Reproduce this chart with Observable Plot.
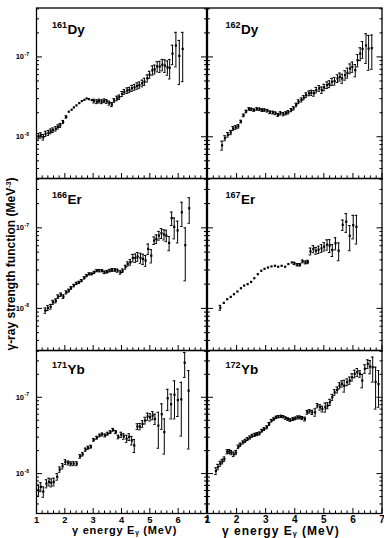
<!DOCTYPE html>
<html>
<head>
<meta charset="utf-8">
<script src="https://cdn.jsdelivr.net/npm/d3@7"></script>
<script src="https://cdn.jsdelivr.net/npm/@observablehq/plot@0.6"></script>
<style>
  body { margin: 0; background: #fff; }
  #chart { position: relative; width: 384px; height: 538px; overflow: hidden;
           font-family: "Liberation Sans", Arial, Helvetica, sans-serif; font-weight: bold; color: #000; }
  #chart svg { position: absolute; }
  .atitle { position: absolute; white-space: nowrap; line-height: 1; }
  .atitle sub { font-size: 0.6em; vertical-align: -0.2em; line-height: 0; }
  .atitle sup { font-size: 0.6em; vertical-align: 0.55em; line-height: 0; }
</style>
</head>
<body>
<div id="chart"></div>
<script>
// γ-ray strength functions, values in units of 1e-8 MeV^-3; err = ± uncertainty
const unit = 1e-8;

const E161 = [1.07,1.15,1.24,1.32,1.42,1.50,1.58,1.68,1.76,1.84,1.94,2.05,2.14,2.24,2.32,2.41,2.51,2.60,2.69,2.77,2.85,2.95,3.03,3.13,3.21,3.30,3.39,3.48,3.57,3.66,3.74,3.84,3.92,4.02,4.10,4.20,4.28,4.37,4.46,4.55,4.63,4.73,4.81,4.91,4.99,5.09,5.17,5.26,5.35,5.44,5.53,5.62,5.70,5.80,5.92,6.04,6.16];
const V161 = [1.02,1.04,0.99,1.09,1.12,1.17,1.21,1.26,1.33,1.39,1.53,1.77,2.06,2.18,2.33,2.47,2.64,2.80,2.90,3.02,2.96,2.88,2.80,2.75,2.80,2.75,2.82,2.77,2.64,2.54,2.85,3.02,3.13,3.44,3.65,3.79,3.86,4.05,4.17,4.33,4.45,4.67,4.90,5.40,6.00,6.80,7.00,7.60,7.60,8.00,7.80,7.40,7.30,11.0,13.9,10.3,12.6];
const Err161 = [0.08,0.08,0.08,0.08,0.08,0.08,0.08,0.08,0.08,0.08,0.07,0.06,0,0,0,0,0,0,0,0,0,0,0.15,0.15,0.15,0.15,0.15,0.15,0.15,0.15,0.15,0.2,0.2,0.25,0.25,0.3,0.3,0.35,0.35,0.4,0.4,0.45,0.5,0.55,0.6,0.9,0.9,1.1,1.2,1.3,1.4,1.5,2.0,3.0,6.4,5.8,7.7];

const E162 = [1.50,1.60,1.70,1.80,1.88,1.97,2.06,2.15,2.24,2.33,2.43,2.51,2.60,2.70,2.79,2.88,2.96,3.06,3.15,3.25,3.34,3.43,3.51,3.61,3.70,3.78,3.88,3.96,4.05,4.13,4.23,4.31,4.39,4.49,4.57,4.66,4.74,4.84,4.93,5.01,5.11,5.19,5.28,5.37,5.47,5.55,5.63,5.73,5.81,5.90,5.98,6.08,6.16,6.25,6.33,6.45,6.54,6.65];
const V162 = [0.78,0.96,1.06,1.13,1.27,1.31,1.35,1.55,1.85,2.07,2.23,2.21,2.16,2.23,2.21,2.16,2.16,2.12,2.03,2.01,1.97,1.88,1.97,1.92,1.97,2.03,2.16,2.27,2.50,2.75,2.89,3.09,3.33,3.50,3.56,3.50,3.85,4.04,3.85,4.15,4.44,4.57,4.88,4.98,5.37,5.63,5.37,5.91,6.33,7.16,7.51,6.83,9.10,11.0,12.6,13.9,12.7,12.9];
const Err162 = [0.10,0.07,0.07,0.07,0.07,0.07,0.07,0.06,0.07,0.08,0.08,0.08,0.08,0.08,0.08,0.08,0.08,0.08,0.08,0.08,0.08,0.08,0.09,0.09,0.09,0.10,0.10,0.11,0.13,0.15,0.17,0.19,0.22,0.24,0.26,0.28,0.30,0.33,0.35,0.38,0.42,0.45,0.50,0.55,0.60,0.65,0.70,0.80,0.90,1.0,1.1,1.2,1.6,2.0,3.0,5.6,5.9,5.9];

const E166 = [1.31,1.40,1.50,1.58,1.68,1.76,1.86,1.95,2.05,2.14,2.22,2.32,2.41,2.50,2.59,2.69,2.77,2.86,2.95,3.04,3.13,3.22,3.32,3.40,3.49,3.58,3.67,3.77,3.86,3.96,4.04,4.14,4.22,4.31,4.40,4.49,4.57,4.67,4.76,4.85,4.94,5.05,5.15,5.23,5.32,5.41,5.50,5.58,5.68,5.77,5.86,5.98,6.13,6.25,6.39];
const V166 = [0.94,1.01,1.05,1.19,1.24,1.40,1.48,1.40,1.58,1.66,1.79,1.92,2.04,2.10,2.21,2.39,2.55,2.68,2.68,2.80,2.94,2.94,2.94,2.80,2.85,2.94,3.00,3.00,2.94,2.80,2.94,3.25,3.56,3.74,4.23,4.23,4.40,4.23,4.11,3.93,5.48,4.52,6.96,7.29,8.03,8.58,8.27,8.03,6.50,13.2,10.3,9.3,15.6,6.1,17.5];
const Err166 = [0.07,0.07,0.07,0.07,0.07,0.07,0.07,0.07,0.07,0.07,0.07,0.07,0.07,0.07,0.07,0.08,0.08,0.08,0.08,0.09,0.09,0.10,0.10,0.10,0.11,0.11,0.12,0.12,0.13,0.14,0.15,0.18,0.22,0.3,0.45,0.5,0.55,0.6,0.6,0.6,0.8,0.85,0.75,0.9,1.0,1.2,1.2,1.3,1.3,2.5,3.0,2.8,5.2,3.9,6.1];

const E167 = [1.44,1.56,1.68,1.80,1.91,2.03,2.15,2.26,2.38,2.50,2.61,2.73,2.85,2.96,3.08,3.20,3.32,3.43,3.55,3.67,3.78,3.90,3.99,4.09,4.18,4.27,4.37,4.45,4.54,4.64,4.73,4.82,4.92,5.01,5.11,5.20,5.29,5.40,5.51,5.65,5.77,5.89,6.01,6.12];
const V167 = [1.02,1.17,1.30,1.39,1.50,1.62,1.78,1.92,2.00,2.13,2.37,2.66,2.93,3.10,3.22,3.32,3.38,3.29,3.38,3.29,3.55,3.72,3.62,3.48,3.48,3.83,3.72,3.77,5.11,5.46,5.20,5.36,5.57,5.85,6.19,6.04,5.31,6.43,5.20,10.9,11.9,7.95,10.8,10.3];
const Err167 = [0.07,0,0,0,0,0,0,0,0,0,0,0,0,0,0,0,0,0,0,0,0,0,0.12,0.12,0.13,0.15,0.15,0.18,0.5,0.55,0.5,0.55,0.6,0.7,0.9,1.1,0.9,1.1,1.3,1.6,3.1,2.75,3.5,4.0];

const E171 = [1.07,1.15,1.24,1.35,1.44,1.52,1.61,1.73,1.82,1.92,2.02,2.12,2.21,2.31,2.42,2.54,2.63,2.73,2.82,2.92,3.02,3.13,3.23,3.32,3.42,3.51,3.61,3.70,3.80,3.89,3.99,4.08,4.18,4.27,4.36,4.45,4.56,4.65,4.74,4.83,4.92,5.01,5.10,5.18,5.30,5.42,5.51,5.63,5.75,5.87,5.99,6.11,6.23,6.37];
const V171 = [0.61,0.67,0.58,0.74,0.78,0.76,0.78,0.91,1.13,1.25,1.42,1.38,1.35,1.35,1.35,1.68,1.79,2.06,2.18,2.25,2.77,2.95,3.16,3.26,3.16,3.33,3.50,3.75,3.50,3.02,3.23,3.07,2.87,3.02,2.72,2.34,4.14,4.14,4.49,4.96,5.60,5.48,5.77,5.21,4.25,6.0,3.5,9.7,8.1,10.8,9.2,9.4,28.4,12.2];
const Err171 = [0.10,0.09,0.09,0.09,0.09,0.09,0.09,0.09,0.09,0.10,0.10,0.08,0.08,0.08,0.08,0.09,0.09,0.10,0.10,0.10,0.12,0.13,0.13,0.14,0.14,0.15,0.15,0.16,0.16,0.16,0.25,0.25,0.3,0.3,0.35,0.45,0.35,0.4,0.45,0.5,0.6,0.6,0.7,0.8,2.1,2.2,1.7,3.0,2.9,5.6,3.6,6.3,10.2,10.1];

const E172 = [1.29,1.36,1.44,1.51,1.58,1.68,1.75,1.82,1.90,1.98,2.06,2.13,2.22,2.30,2.38,2.46,2.54,2.63,2.71,2.79,2.87,2.95,3.04,3.12,3.20,3.28,3.36,3.44,3.53,3.61,3.69,3.77,3.85,3.94,4.02,4.10,4.18,4.26,4.35,4.43,4.51,4.60,4.70,4.78,4.87,4.95,5.05,5.13,5.21,5.29,5.37,5.46,5.54,5.62,5.70,5.80,5.89,5.97,6.06,6.15,6.24,6.32,6.41,6.51,6.59,6.68,6.78,6.88];
const V172 = [1.08,1.22,1.35,1.44,1.55,1.93,1.95,1.89,1.79,1.89,2.24,2.39,2.56,2.69,2.84,2.97,3.13,3.22,3.29,3.36,3.64,3.83,4.04,4.46,4.93,5.18,5.45,5.57,5.62,5.57,5.34,5.18,5.03,5.18,5.28,5.45,5.45,5.34,5.18,6.35,6.55,6.35,6.35,7.77,7.39,7.03,7.39,7.77,8.6,10.0,11.6,12.5,14.2,15.0,14.2,15.8,16.6,18.3,20.3,21.3,20.3,16.6,23.6,27.4,25.3,24.7,15.9,14.9];
const Err172 = [0.11,0.1,0.1,0.1,0.1,0.12,0.12,0.12,0.12,0.12,0.12,0.12,0.12,0.13,0.13,0.14,0.14,0.15,0.15,0.15,0.16,0.17,0.18,0.2,0.2,0.2,0.2,0.2,0.2,0.2,0.2,0.2,0.2,0.22,0.22,0.24,0.24,0.25,0.3,0.35,0.35,0.4,0.7,0.5,0.6,0.6,1.0,0.7,0.8,0.9,1.0,1.1,1.3,1.4,2.5,1.6,1.8,2.0,2.3,2.5,2.0,3.3,3.0,3.5,5.0,8.9,8.9,7.5];

// axis ticks
const xMajor = [1, 2, 3, 4, 5, 6, 7];
const xMinor = [1.2,1.4,1.6,1.8,2.2,2.4,2.6,2.8,3.2,3.4,3.6,3.8,4.2,4.4,4.6,4.8,5.2,5.4,5.6,5.8,6.2,6.4,6.6,6.8];
const yMajor = [1e-8, 1e-7];
const yMinor = [4e-9,5e-9,6e-9,7e-9,8e-9,9e-9,2e-8,3e-8,4e-8,5e-8,6e-8,7e-8,8e-8,9e-8,2e-7,3e-7,4e-7];

const panels = [
  {mass: "161", elem: "Dy", col: 0, row: 0, E: E161, V: V161, Err: Err161},
  {mass: "162", elem: "Dy", col: 1, row: 0, E: E162, V: V162, Err: Err162},
  {mass: "166", elem: "Er", col: 0, row: 1, E: E166, V: V166, Err: Err166},
  {mass: "167", elem: "Er", col: 1, row: 1, E: E167, V: V167, Err: Err167},
  {mass: "171", elem: "Yb", col: 0, row: 2, E: E171, V: V171, Err: Err171},
  {mass: "172", elem: "Yb", col: 1, row: 2, E: E172, V: V172, Err: Err172}
];

// pad layout (pixels)
const cols = [
  {left: 0, width: 206, ml: 36, mr: 0, labelDx: 31, tickFont: 9.3, tickPad: 2.5},
  {left: 200, width: 184, ml: 7, mr: 2.5, labelDx: 33.5, tickFont: 10, tickPad: 2.5}
];
const rowsGeo = [
  {top: 0, height: 178, mt: 7.5, mb: 0, labelDy: 25.8},
  {top: 178, height: 172, mt: 0, mb: 0, labelDy: 25.3},
  {top: 350, height: 188, mt: 0, mb: 25, labelDy: 23.3}
];
const cap = 0.045; // half-width of error-bar end caps, MeV

const chart = document.getElementById("chart");

for (const p of panels) {
  const c = cols[p.col], r = rowsGeo[p.row];
  const data = p.E.map((e, i) => ({E: e, v: p.V[i] * unit, err: p.Err[i] * unit}));
  const bars = data.filter(d => d.err > 0);
  const bottom = p.row === 2;
  const left = p.col === 0;

  const marks = [
    // inward ticks on all but the top edge
    Plot.axisX(xMajor, {anchor: "bottom", tickSize: -5, fill: "none", label: null, strokeWidth: 1}),
    Plot.axisX(xMinor, {anchor: "bottom", tickSize: -2.6, fill: "none", label: null, strokeWidth: 1}),
    Plot.axisY(yMajor, {anchor: "left", tickSize: -6, fill: "none", label: null, strokeWidth: 1}),
    Plot.axisY(yMinor, {anchor: "left", tickSize: -3, fill: "none", label: null, strokeWidth: 1}),
    Plot.axisY(yMajor, {anchor: "right", tickSize: -6, fill: "none", label: null, strokeWidth: 1}),
    Plot.axisY(yMinor, {anchor: "right", tickSize: -3, fill: "none", label: null, strokeWidth: 1}),
    Plot.frame({stroke: "#000", strokeWidth: 1.3}),
    // error bars with end caps
    Plot.ruleX(bars, {x: "E", y1: d => d.v - d.err, y2: d => d.v + d.err, stroke: "#000", strokeWidth: 1}),
    Plot.ruleY(bars, {y: d => d.v - d.err, x1: d => d.E - cap, x2: d => d.E + cap, stroke: "#000", strokeWidth: 1}),
    Plot.ruleY(bars, {y: d => d.v + d.err, x1: d => d.E - cap, x2: d => d.E + cap, stroke: "#000", strokeWidth: 1}),
    Plot.dot(data, {x: "E", y: "v", symbol: "square", r: 1.25, fill: "#000", stroke: null}),
    // nucleus label
    Plot.text([p.mass], {frameAnchor: "top-left", text: d => d, dx: c.labelDx - 0.5, dy: r.labelDy - 6,
      textAnchor: "end", lineAnchor: "bottom", fontSize: 9, fontWeight: "bold", fill: "#000"}),
    Plot.text([p.elem], {frameAnchor: "top-left", text: d => d, dx: c.labelDx, dy: r.labelDy,
      textAnchor: "start", lineAnchor: "bottom", fontSize: 13.5, fontWeight: "bold", fill: "#000"})
  ];

  if (left) {
    marks.push(
      Plot.text(yMajor, {y: d => d, frameAnchor: "left", dx: -12.5, text: () => "10",
        textAnchor: "end", lineAnchor: "middle", fontSize: 7.5, fontWeight: "bold", fill: "#000"}),
      Plot.text(yMajor, {y: d => d, frameAnchor: "left", dx: -7.5, dy: -2.5,
        text: d => String(Math.round(Math.log10(d))),
        textAnchor: "end", lineAnchor: "middle", fontSize: 5, fontWeight: "bold", fill: "#000"})
    );
  }
  if (bottom) {
    marks.push(
      Plot.axisX(xMajor, {anchor: "bottom", tickSize: 0, tickPadding: c.tickPad, stroke: "none", label: null,
        tickFormat: d => String(d), fontSize: c.tickFont, fontWeight: "bold", fill: "#000"})
    );
  }

  const svg = Plot.plot({
    width: c.width,
    height: r.height,
    marginLeft: c.ml,
    marginRight: c.mr,
    marginTop: r.mt,
    marginBottom: r.mb,
    style: {background: "transparent", overflow: "visible",
            fontFamily: "'Liberation Sans', Arial, Helvetica, sans-serif"},
    x: {domain: [1, 7]},
    y: {type: "log", domain: [3e-9, 4.1e-7]},
    marks
  });
  svg.style.left = c.left + "px";
  svg.style.top = r.top + "px";
  chart.appendChild(svg);
}

// axis titles
const yTitle = document.createElement("div");
yTitle.className = "atitle";
yTitle.innerHTML = "γ-ray strength function (MeV<sup>-3</sup>)";
yTitle.style.cssText = "left:11px;top:264px;font-size:12px;transform:translate(-50%,-50%) rotate(-90deg);";
chart.appendChild(yTitle);

const xTitles = [
  {left: 72, top: 525.2, size: 11, spacing: 0.75},
  {left: 222, top: 524.9, size: 12, spacing: 1.0}
];
for (const t of xTitles) {
  const d = document.createElement("div");
  d.className = "atitle";
  d.innerHTML = "γ energy E<sub>γ</sub> (MeV)";
  d.style.cssText = `left:${t.left}px;top:${t.top}px;font-size:${t.size}px;letter-spacing:${t.spacing}px;`;
  chart.appendChild(d);
}
</script>
</body>
</html>
